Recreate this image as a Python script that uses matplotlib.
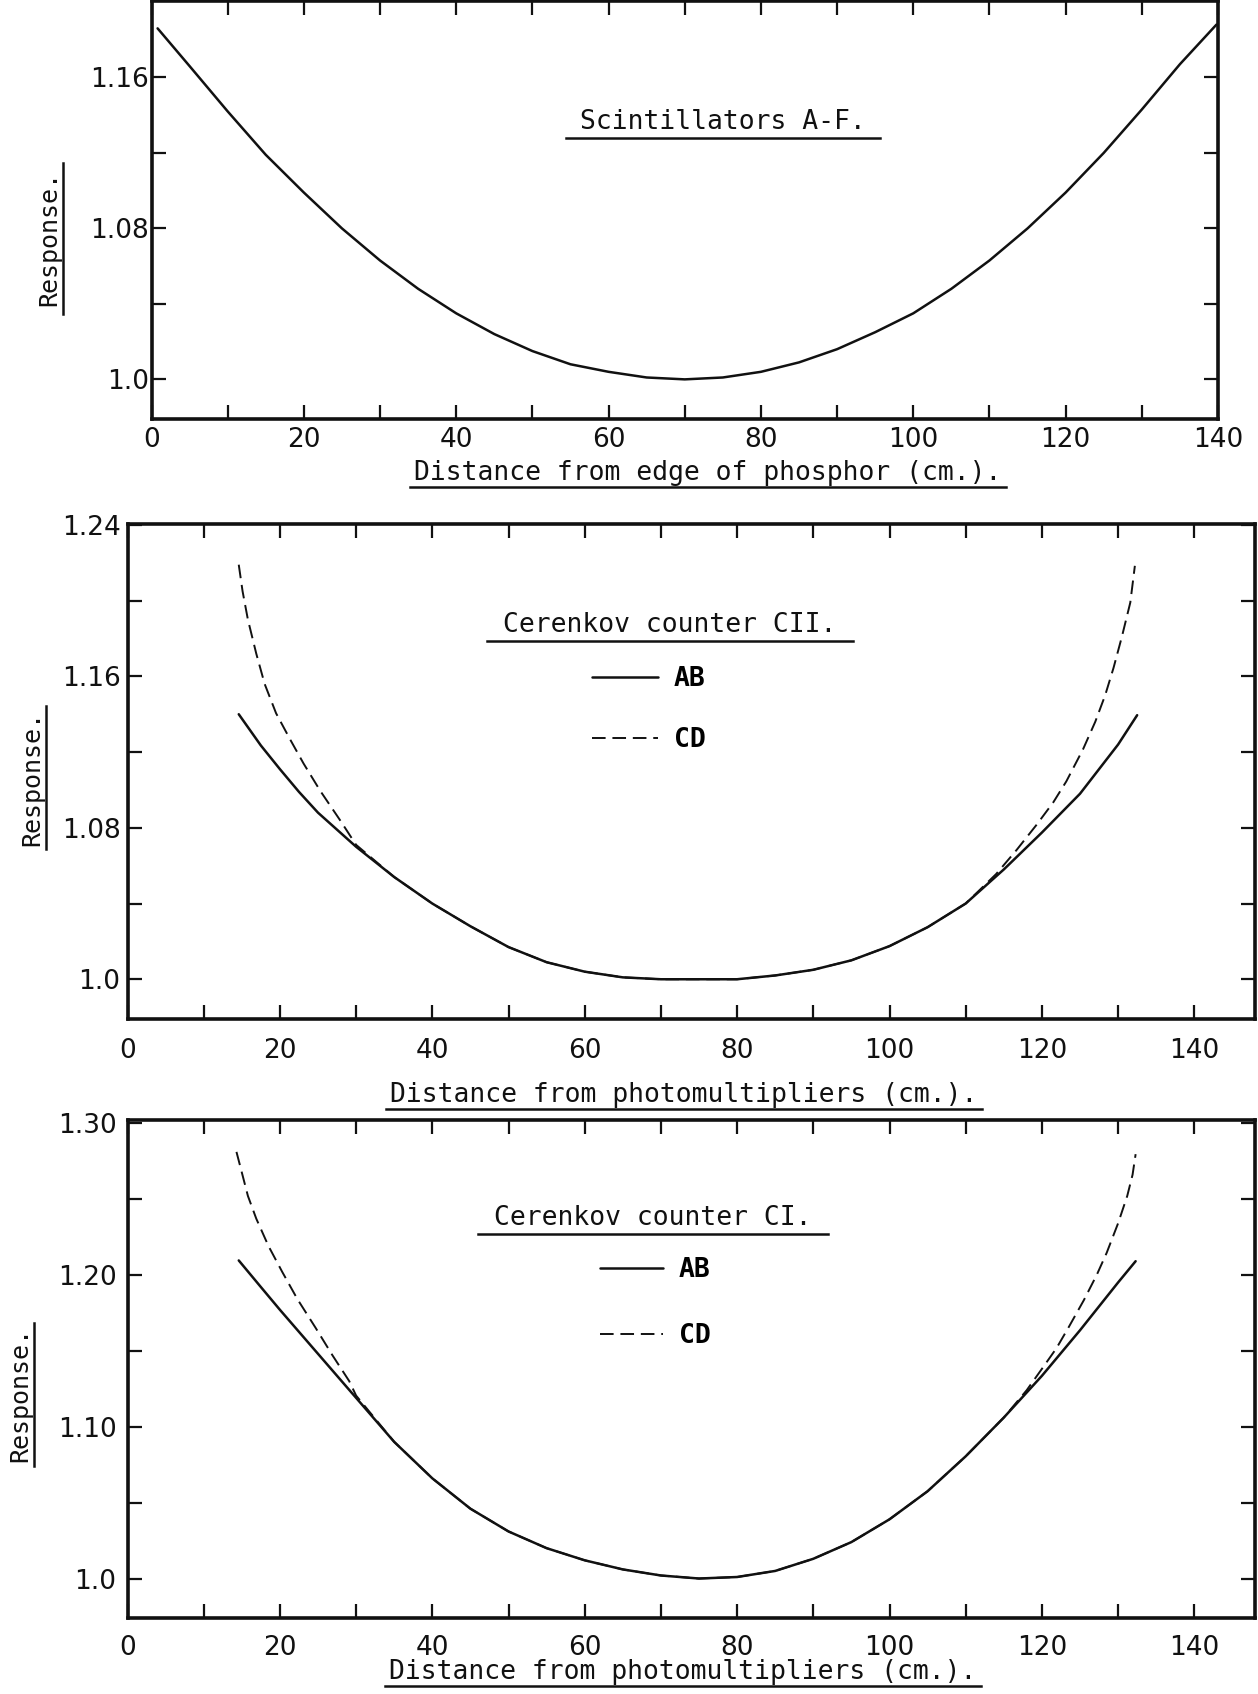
import matplotlib
matplotlib.use('Agg')
import matplotlib.pyplot as plt
from matplotlib.lines import Line2D
from matplotlib.transforms import IdentityTransform
from matplotlib.font_manager import FontProperties

# ---------------- data ----------------
x_major = [0, 20, 40, 60, 80, 100, 120, 140]
x_labels = ['0', '20', '40', '60', '80', '100', '120', '140']
x_minor = [10, 30, 50, 70, 90, 110, 130]

# Panel 1: Scintillators A-F
sc_x = [0.8, 5, 10, 15, 20, 25, 30, 35, 40, 45, 50, 55, 60, 65, 70, 75, 80, 85,
        90, 95, 100, 105, 110, 115, 120, 125, 130, 135, 139.8]
sc_y = [1.186, 1.166, 1.142, 1.119, 1.099, 1.080, 1.063, 1.048, 1.035, 1.024,
        1.015, 1.008, 1.004, 1.001, 1.000, 1.001, 1.004, 1.009, 1.016, 1.025,
        1.035, 1.048, 1.063, 1.080, 1.099, 1.120, 1.143, 1.167, 1.188]
sc_yticks = [1.0, 1.08, 1.16]
sc_ylabels = ['1.0', '1.08', '1.16']
sc_yminor = [1.04, 1.12]

# Panel 2: Cerenkov counter CII
c2_ab_x = [14.6, 17.5, 20, 22.5, 25, 30, 35, 40, 45, 50, 55, 60, 65, 70, 75, 80,
           85, 90, 95, 100, 105, 110, 115, 120, 125, 130, 132.5]
c2_ab_y = [1.140, 1.1235, 1.111, 1.099, 1.088, 1.070, 1.054, 1.040, 1.028, 1.017,
           1.009, 1.004, 1.001, 1.000, 1.000, 1.000, 1.002, 1.005, 1.010, 1.0175,
           1.0275, 1.040, 1.058, 1.0775, 1.098, 1.124, 1.1395]
c2_cd_x = [14.6, 15.1, 15.8, 16.9, 18, 19.5, 21.3, 23.1, 25.3, 27.9, 30, 35, 40,
           45, 50, 55, 60, 65, 70, 75, 80, 85, 90, 95, 100, 105, 110, 114, 116.7,
           119.3, 121.5, 123.2, 125.4, 127, 128.3, 129.4, 130.5, 131.6, 132.2]
c2_cd_y = [1.219, 1.205, 1.190, 1.172, 1.156, 1.1405, 1.127, 1.114, 1.0995, 1.084,
           1.071, 1.054, 1.040, 1.028, 1.017, 1.009, 1.004, 1.001, 1.000, 1.000,
           1.000, 1.002, 1.005, 1.010, 1.0175, 1.0275, 1.040, 1.0556, 1.0684,
           1.0816, 1.0935, 1.1045, 1.1215, 1.136, 1.150, 1.1645, 1.181, 1.199,
           1.2184]
c2_yticks = [1.0, 1.08, 1.16, 1.24]
c2_ylabels = ['1.0', '1.08', '1.16', '1.24']
c2_yminor = [1.04, 1.12, 1.20]

# Panel 3: Cerenkov counter CI
c1_ab_x = [14.6, 17.5, 20, 22.5, 25, 30, 35, 40, 45, 50, 55, 60, 65, 70, 75, 80,
           85, 90, 95, 100, 105, 110, 115, 120, 125, 130, 132.3]
c1_ab_y = [1.2095, 1.192, 1.177, 1.1625, 1.148, 1.119, 1.090, 1.066, 1.046, 1.031,
           1.020, 1.012, 1.006, 1.002, 1.000, 1.001, 1.005, 1.013, 1.024, 1.039,
           1.0575, 1.0805, 1.106, 1.1335, 1.1635, 1.195, 1.209]
c1_cd_x = [14.3, 15.0, 15.8, 16.9, 18.5, 20.3, 22.3, 24.7, 26.9, 29.1, 30, 35, 40,
           45, 50, 55, 60, 65, 70, 75, 80, 85, 90, 95, 100, 105, 110, 115, 118,
           120.2, 121.9, 123.5, 125.5, 127.2, 128.5, 130, 131.2, 131.9, 132.3]
c1_cd_y = [1.281, 1.2675, 1.252, 1.237, 1.219, 1.202, 1.184, 1.165, 1.147, 1.130,
           1.1205, 1.090, 1.066, 1.046, 1.031, 1.020, 1.012, 1.006, 1.002, 1.000,
           1.001, 1.005, 1.013, 1.024, 1.039, 1.0575, 1.0805, 1.106, 1.124, 1.1395,
           1.1516, 1.1654, 1.1833, 1.200, 1.2145, 1.234, 1.252, 1.266, 1.2795]
c1_yticks = [1.0, 1.10, 1.20, 1.30]
c1_ylabels = ['1.0', '1.10', '1.20', '1.30']
c1_yminor = [1.05, 1.15, 1.25]

# ---------------- figure ----------------
W, H = 1258, 1694
DPI = 100
fig = plt.figure(figsize=(W / DPI, H / DPI), dpi=DPI)
fig.patch.set_facecolor('white')

MONO = 'DejaVu Sans Mono'
SANS = 'DejaVu Sans'
INK = '#111111'
DASH = (0, (7.0, 3.5))


def px_axes(l, t, r, b):
    return fig.add_axes([l / W, 1 - b / H, (r - l) / W, (b - t) / H])


def style(ax, xlim, ylim, ymaj, ylab, ymin, xpad, ypad):
    ax.set_xlim(*xlim)
    ax.set_ylim(*ylim)
    ax.set_xticks(x_major)
    ax.set_xticklabels(x_labels)
    ax.set_xticks(x_minor, minor=True)
    ax.set_yticks(ymaj)
    ax.set_yticklabels(ylab)
    ax.set_yticks(ymin, minor=True)
    for s in ax.spines.values():
        s.set_linewidth(2.6)
        s.set_color(INK)
    ax.tick_params(which='both', direction='in', length=10, width=1.6,
                   top=True, right=True, colors=INK)
    ax.tick_params(axis='x', which='major', pad=xpad, labelsize=19)
    ax.tick_params(axis='y', which='major', pad=ypad, labelsize=19)
    for lab in ax.get_xticklabels() + ax.get_yticklabels():
        lab.set_family(SANS)


underlined = []


def utext(x, y, s, rotation=0, size=19, weight='normal', ext=6, gap=1):
    t = fig.text(x / W, 1 - y / H, s, ha='center', va='center', rotation=rotation,
                 family=MONO, fontsize=size, fontweight=weight, color=INK)
    underlined.append((t, rotation, ext, gap))
    return t


leg_prop = FontProperties(family=MONO, size=19, weight='bold')
CURVE = dict(color=INK, solid_joinstyle='round', solid_capstyle='round')

# ---- Panel 1 ----
ax1 = px_axes(151.5, 1, 1218, 419)
ax1.plot(sc_x, sc_y, lw=1.8, **CURVE)
style(ax1, (0, 140), (0.979, 1.2005), sc_yticks, sc_ylabels, sc_yminor, 6, 2)
utext(723, 122, 'Scintillators A-F.', ext=14, gap=3)
utext(708, 473, 'Distance from edge of phosphor (cm.).', ext=4, gap=1)
utext(49, 239, 'Response.', rotation=90, size=18, ext=8, gap=2)

# ---- Panel 2 ----
ax2 = px_axes(127.5, 524, 1254.5, 1019)
l_ab2, = ax2.plot(c2_ab_x, c2_ab_y, lw=1.8, **CURVE)
l_cd2, = ax2.plot(c2_cd_x, c2_cd_y, color=INK, lw=1.4, linestyle=DASH)
style(ax2, (0, 147.9), (0.979, 1.2405), c2_yticks, c2_ylabels, c2_yminor, 14, 5)
ax2.legend([l_ab2, l_cd2], ['AB', 'CD'], loc='center left',
           bbox_to_anchor=(0.412, 0.625), frameon=False, prop=leg_prop,
           handlelength=2.5, handletextpad=0.6, labelspacing=1.3,
           borderpad=0, borderaxespad=0)
utext(670, 625, 'Cerenkov counter CII.', ext=16, gap=3)
utext(684, 1095, 'Distance from photomultipliers (cm.).', ext=4, gap=1)
utext(32, 778, 'Response.', rotation=90, size=18, ext=4, gap=2)

# ---- Panel 3 ----
ax3 = px_axes(127.5, 1120, 1254.5, 1618)
l_ab3, = ax3.plot(c1_ab_x, c1_ab_y, lw=1.8, **CURVE)
l_cd3, = ax3.plot(c1_cd_x, c1_cd_y, color=INK, lw=1.4, linestyle=DASH)
style(ax3, (0, 147.9), (0.974, 1.302), c1_yticks, c1_ylabels, c1_yminor, 12, 8)
ax3.legend([l_ab3, l_cd3], ['AB', 'CD'], loc='center left',
           bbox_to_anchor=(0.419, 0.632), frameon=False, prop=leg_prop,
           handlelength=2.4, handletextpad=0.6, labelspacing=1.5,
           borderpad=0, borderaxespad=0)
utext(653, 1218, 'Cerenkov counter CI.', ext=16, gap=3)
utext(683, 1672, 'Distance from photomultipliers (cm.).', ext=4, gap=1)
utext(20, 1394, 'Response.', rotation=90, size=18, ext=4, gap=2)

# ---- underlines (measured from the rendered text) ----
fig.canvas.draw()
renderer = fig.canvas.get_renderer()
for t, rot, ext, gap in underlined:
    bb = t.get_window_extent(renderer)
    if rot == 0:
        xs = [bb.x0 - ext, bb.x1 + ext]
        ys = [bb.y0 - gap, bb.y0 - gap]
    else:
        xs = [bb.x1 + gap, bb.x1 + gap]
        ys = [bb.y0 - ext, bb.y1 + ext]
    fig.add_artist(Line2D(xs, ys, transform=IdentityTransform(),
                          color=INK, lw=1.8))

fig.savefig('out.png', dpi=DPI, facecolor='white')
